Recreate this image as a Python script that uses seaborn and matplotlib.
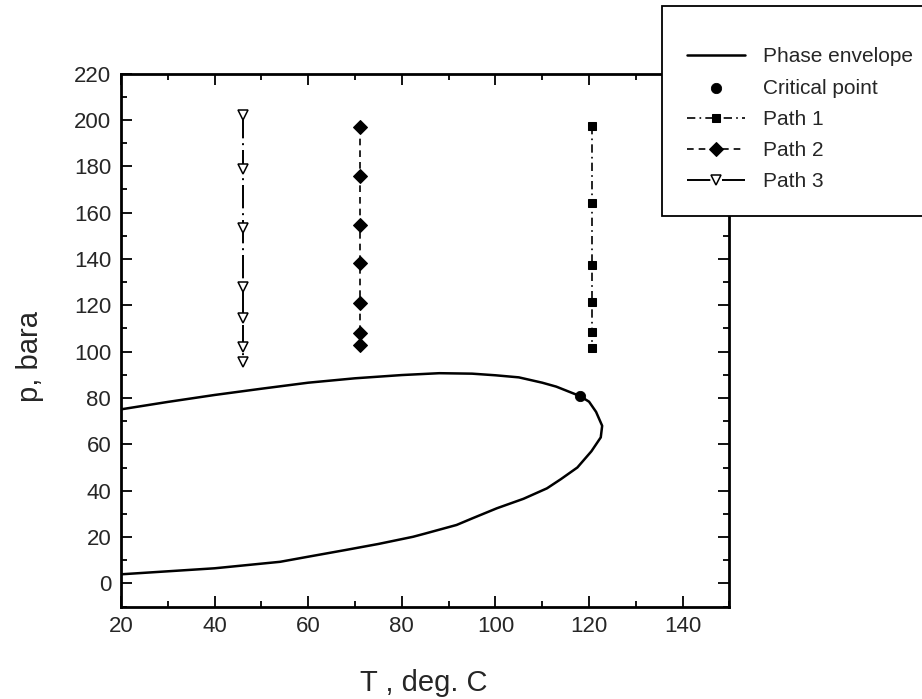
import matplotlib
matplotlib.use("Agg")
import matplotlib.pyplot as plt
import seaborn as sns
import pandas as pd
from matplotlib.ticker import MultipleLocator

# ---------------- data ----------------
env_T = [20, 30, 40, 50, 60, 70, 80, 88, 95, 100, 105, 110, 113, 118.1, 120, 121.5,
         122.8, 122.5, 120.5, 117.5, 114, 111, 106, 100.3, 95, 91.7, 85, 82.4, 75, 68,
         60, 54, 45, 40, 30, 20]
env_p = [75.1, 78.3, 81.3, 84.0, 86.6, 88.5, 89.9, 90.7, 90.5, 89.8, 88.9, 86.6, 84.9, 80.8, 78.4, 74.0,
         68.0, 63.0, 57.0, 50.0, 45.0, 41.0, 36.5, 32.4, 28.0, 25.2, 21.5, 20.1, 17.0, 14.4,
         11.5, 9.3, 7.5, 6.5, 5.2, 3.9]

crit_T = [118.1]
crit_p = [80.8]

path1_T = [120.7, 120.7, 120.7, 120.7, 120.7, 120.7]
path1_p = [197.4, 164.0, 137.4, 121.3, 108.6, 101.4]

path2_T = [71, 71, 71, 71, 71, 71, 71]
path2_p = [197.1, 175.8, 154.6, 138.1, 120.8, 107.9, 102.8]

path3_T = [46, 46, 46, 46, 46, 46, 46]
path3_p = [202.0, 178.7, 153.3, 128.0, 114.6, 102.1, 95.6]

x_ticks = [20, 40, 60, 80, 100, 120, 140]
y_ticks = [0, 20, 40, 60, 80, 100, 120, 140, 160, 180, 200, 220]

# ---------------- style ----------------
sns.set_style("ticks")
plt.rcParams["font.family"] = ["Liberation Sans", "DejaVu Sans"]

fig = plt.figure(figsize=(9.22, 6.99), dpi=100)
ax = fig.add_axes([0.1312, 0.1323, 0.6600, 0.7624])

env = pd.DataFrame({"T": env_T, "p": env_p})
sns.lineplot(data=env, x="T", y="p", sort=False, estimator=None, color="black",
             linewidth=1.8, ax=ax, label="Phase envelope")

sns.scatterplot(x=crit_T, y=crit_p, color="black", s=55, edgecolor="black",
                marker="o", ax=ax, label="Critical point", zorder=5)

sns.lineplot(x=path1_T, y=path1_p, sort=False, estimator=None, color="black",
             linewidth=1.2, linestyle=(0, (5, 2.5, 1, 2.5)), marker="s",
             markersize=6, markerfacecolor="black", markeredgecolor="black",
             ax=ax, label="Path 1")

sns.lineplot(x=path2_T, y=path2_p, sort=False, estimator=None, color="black",
             linewidth=1.2, linestyle=(0, (4, 3)), marker="D",
             markersize=7.5, markerfacecolor="black", markeredgecolor="black",
             ax=ax, label="Path 2")

sns.lineplot(x=path3_T, y=path3_p, sort=False, estimator=None, color="black",
             linewidth=1.4, linestyle=(0, (12, 2.5, 1, 2.5)), marker="v",
             markersize=6.5, markerfacecolor="white", markeredgecolor="black",
             markeredgewidth=1.1, ax=ax, label="Path 3")

ax.set_xlim(20, 150)
ax.set_ylim(-10, 220)
ax.set_xticks(x_ticks)
ax.set_yticks(y_ticks)
ax.xaxis.set_minor_locator(MultipleLocator(10))
ax.yaxis.set_minor_locator(MultipleLocator(10))
ax.tick_params(which="both", direction="in", top=True, right=True, color="black",
               width=1.3)
ax.tick_params(which="major", length=8, labelsize=16, pad=7)
ax.tick_params(which="minor", length=4.5)

for s in ax.spines.values():
    s.set_visible(True)
    s.set_linewidth(2.0)
    s.set_color("black")

ax.set_xlabel("T , deg. C", fontsize=21, va="center")
ax.set_ylabel("p, bara", fontsize=21, va="center")
ax.xaxis.set_label_coords(0.497, -0.1435)
ax.yaxis.set_label_coords(-0.150, 0.47)

handles, labels = ax.get_legend_handles_labels()
if ax.get_legend():
    ax.get_legend().remove()
leg = ax.legend(handles, labels, loc="upper left",
                bbox_to_anchor=(662 / 922, 1 - 6 / 699),
                bbox_transform=fig.transFigure, fontsize=15, frameon=True,
                fancybox=False, shadow=False, framealpha=1, edgecolor="black",
                borderpad=1.2, labelspacing=0.59, handlelength=2.8,
                handletextpad=0.85, borderaxespad=0,
                title=" ", title_fontsize=3)
leg.get_frame().set_linewidth(1.3)
leg.set_zorder(10)

fig.savefig("out.png", dpi=100)
